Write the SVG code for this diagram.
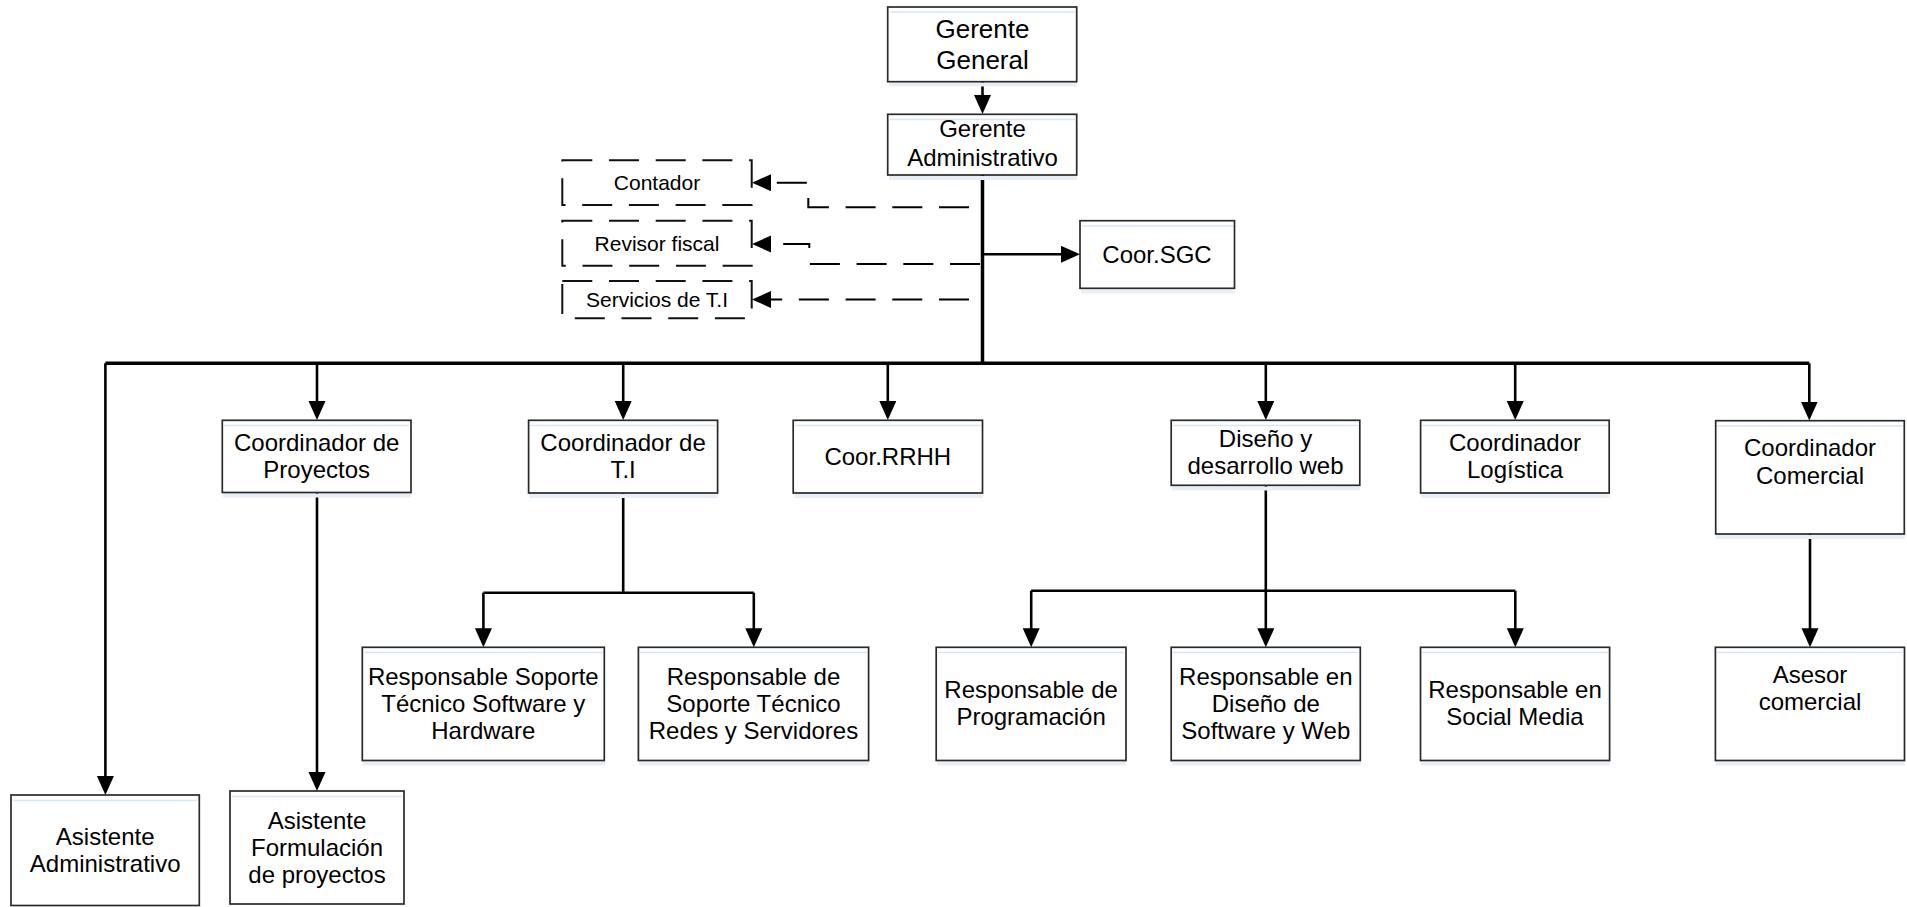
<svg xmlns="http://www.w3.org/2000/svg" width="1907" height="907" viewBox="0 0 1907 907">
<defs>
<style>
.box{fill:#fff;stroke:#2a2a2a;stroke-width:1.7}
.dbox{fill:#fff;stroke:#111;stroke-width:2;stroke-dasharray:30 16.7}
.hl{stroke:#d9e6f4;stroke-width:1.5}
.sh{fill:#e9eff7}
text{font-family:"Liberation Sans",Arial,sans-serif;font-size:24px;fill:#000;text-anchor:middle}
.big{font-size:26px}
.sm{font-size:21px}
.c{fill:none;stroke:#000;stroke-width:2.6}
.trunk{fill:none;stroke:#000;stroke-width:3.5}
.dash{fill:none;stroke:#000;stroke-width:2;stroke-dasharray:30 16.7}
</style>
<marker id="ah" markerUnits="userSpaceOnUse" markerWidth="20" markerHeight="18" refX="11" refY="8.5" orient="auto">
<path d="M0,0 L19,8.5 L0,17 z" fill="#000"/>
</marker>
</defs>
<rect width="1907" height="907" fill="#fff"/>

<g id="connectors">
<path class="c" d="M982.5,82 L982.5,106" marker-end="url(#ah)"/>
<path class="trunk" d="M982.5,175 L982.5,364"/>
<path class="trunk" d="M105.4,363.3 L1809.3,363.3"/>
<path class="c" d="M982.5,254.3 L1072,254.3" marker-end="url(#ah)"/>
<path class="c" d="M105.4,363.3 L105.4,787" marker-end="url(#ah)"/>
<path class="c" d="M317,363.3 L317,412" marker-end="url(#ah)"/>
<path class="c" d="M623.2,363.3 L623.2,412" marker-end="url(#ah)"/>
<path class="c" d="M887.8,363.3 L887.8,412" marker-end="url(#ah)"/>
<path class="c" d="M1265.8,363.3 L1265.8,412" marker-end="url(#ah)"/>
<path class="c" d="M1515.2,363.3 L1515.2,412" marker-end="url(#ah)"/>
<path class="c" d="M1809.3,363.3 L1809.3,412.5" marker-end="url(#ah)"/>
<path class="c" d="M317,492.5 L317,783" marker-end="url(#ah)"/>
<path class="c" d="M623.2,493 L623.2,592.7"/>
<path class="c" d="M483.4,592.7 L753.8,592.7"/>
<path class="c" d="M483.4,592.7 L483.4,639.3" marker-end="url(#ah)"/>
<path class="c" d="M753.8,592.7 L753.8,639.3" marker-end="url(#ah)"/>
<path class="c" d="M1265.8,485.3 L1265.8,590.7"/>
<path class="c" d="M1031.2,590.7 L1515.3,590.7"/>
<path class="c" d="M1031.2,590.7 L1031.2,639.3" marker-end="url(#ah)"/>
<path class="c" d="M1265.8,590.7 L1265.8,639.3" marker-end="url(#ah)"/>
<path class="c" d="M1515.3,590.7 L1515.3,639.3" marker-end="url(#ah)"/>
<path class="c" d="M1810,534 L1810,639.3" marker-end="url(#ah)"/>
<path class="dash" d="M969,207.3 L808.3,207.3 L808.3,182.7 L760,182.7" marker-end="url(#ah)"/>
<path class="dash" d="M980,264 L809.3,264 L809.3,244 L760,244" marker-end="url(#ah)"/>
<path class="dash" d="M969,299.5 L760,299.5" marker-end="url(#ah)"/>
</g>

<g id="gerente-general">
<rect class="sh" x="889" y="82.5" width="188" height="4"/>
<rect class="box" x="887.7" y="7" width="189" height="74.7"/>
<line class="hl" x1="890" y1="12" x2="1075" y2="12"/>
<text class="big" x="982.5" y="38">Gerente</text>
<text class="big" x="982.5" y="69">General</text>
</g>

<g id="gerente-administrativo">
<rect class="sh" x="889" y="176" width="188" height="4"/>
<rect class="box" x="887.7" y="114.3" width="189" height="60.7"/>
<line class="hl" x1="890" y1="119.5" x2="1075" y2="119.5"/>
<text x="982.5" y="136.7">Gerente</text>
<text x="982.5" y="166">Administrativo</text>
</g>

<g id="contador">
<rect class="dbox" x="562.3" y="160.3" width="189.4" height="44.7"/>
<text class="sm" x="657" y="190">Contador</text>
</g>

<g id="revisor-fiscal">
<rect class="dbox" x="562.3" y="220.7" width="189.4" height="45"/>
<text class="sm" x="657" y="250.5">Revisor fiscal</text>
</g>

<g id="servicios-ti">
<rect class="dbox" x="562.3" y="281" width="189.4" height="37.3"/>
<text class="sm" x="657" y="306.5">Servicios de T.I</text>
</g>

<g id="coor-sgc">
<rect class="sh" x="1081" y="289.5" width="154" height="4"/>
<rect class="box" x="1080" y="220.7" width="154.5" height="67.6"/>
<line class="hl" x1="1082" y1="226" x2="1233" y2="226"/>
<text x="1157" y="263">Coor.SGC</text>
</g>

<g id="coordinador-proyectos">
<rect class="sh" x="223" y="493.5" width="188" height="4"/>
<rect class="box" x="222.3" y="420.3" width="188.7" height="72.2"/>
<line class="hl" x1="224" y1="425.5" x2="409" y2="425.5"/>
<text x="316.7" y="450.5">Coordinador de</text>
<text x="316.7" y="477.5">Proyectos</text>
</g>

<g id="coordinador-ti">
<rect class="sh" x="529" y="494" width="189" height="4"/>
<rect class="box" x="528.6" y="420.3" width="189" height="72.7"/>
<line class="hl" x1="530" y1="425.5" x2="716" y2="425.5"/>
<text x="623.1" y="450.5">Coordinador de</text>
<text x="623.1" y="477.5">T.I</text>
</g>

<g id="coor-rrhh">
<rect class="sh" x="794" y="494" width="189" height="4"/>
<rect class="box" x="793.2" y="420.3" width="189.3" height="72.7"/>
<line class="hl" x1="795" y1="425.5" x2="981" y2="425.5"/>
<text x="887.8" y="464.5">Coor.RRHH</text>
</g>

<g id="diseno-desarrollo-web">
<rect class="sh" x="1172" y="486.5" width="188" height="4"/>
<rect class="box" x="1171.2" y="420.3" width="188.6" height="65"/>
<line class="hl" x1="1173" y1="425.5" x2="1358" y2="425.5"/>
<text x="1265.5" y="446.9">Diseño y</text>
<text x="1265.5" y="473.9">desarrollo web</text>
</g>

<g id="coordinador-logistica">
<rect class="sh" x="1421" y="494" width="189" height="4"/>
<rect class="box" x="1420.6" y="420.3" width="188.6" height="72.7"/>
<line class="hl" x1="1422" y1="425.5" x2="1608" y2="425.5"/>
<text x="1515" y="450.8">Coordinador</text>
<text x="1515" y="477.8">Logística</text>
</g>

<g id="coordinador-comercial">
<rect class="sh" x="1716" y="535" width="189" height="4"/>
<rect class="box" x="1715.7" y="420.7" width="188.6" height="113.3"/>
<line class="hl" x1="1717" y1="426" x2="1903" y2="426"/>
<text x="1810" y="455.5">Coordinador</text>
<text x="1810" y="483.5">Comercial</text>
</g>

<g id="resp-soporte-software">
<rect class="sh" x="363" y="761.5" width="242" height="4"/>
<rect class="box" x="362.3" y="647.3" width="242" height="113.2"/>
<line class="hl" x1="364" y1="652.5" x2="603" y2="652.5"/>
<text x="483.3" y="685.2">Responsable Soporte</text>
<text x="483.3" y="712.2">Técnico Software y</text>
<text x="483.3" y="739.2">Hardware</text>
</g>

<g id="resp-soporte-redes">
<rect class="sh" x="639" y="761.5" width="230" height="4"/>
<rect class="box" x="638.4" y="647.3" width="230.2" height="113.2"/>
<line class="hl" x1="640" y1="652.5" x2="867" y2="652.5"/>
<text x="753.5" y="685.2">Responsable de</text>
<text x="753.5" y="712.2">Soporte Técnico</text>
<text x="753.5" y="739.2">Redes y Servidores</text>
</g>

<g id="resp-programacion">
<rect class="sh" x="937" y="761.5" width="189" height="4"/>
<rect class="box" x="936.2" y="647.3" width="189.8" height="113.2"/>
<line class="hl" x1="938" y1="652.5" x2="1124" y2="652.5"/>
<text x="1031.1" y="698.3">Responsable de</text>
<text x="1031.1" y="725.3">Programación</text>
</g>

<g id="resp-diseno-software-web">
<rect class="sh" x="1172" y="761.5" width="189" height="4"/>
<rect class="box" x="1171.2" y="647.3" width="189.1" height="113.2"/>
<line class="hl" x1="1173" y1="652.5" x2="1359" y2="652.5"/>
<text x="1265.8" y="685.2">Responsable en</text>
<text x="1265.8" y="712.2">Diseño de</text>
<text x="1265.8" y="739.2">Software y Web</text>
</g>

<g id="resp-social-media">
<rect class="sh" x="1421" y="761.5" width="189" height="4"/>
<rect class="box" x="1420.5" y="647.3" width="189.1" height="113.2"/>
<line class="hl" x1="1422" y1="652.5" x2="1608" y2="652.5"/>
<text x="1515" y="698.3">Responsable en</text>
<text x="1515" y="725.3">Social Media</text>
</g>

<g id="asesor-comercial">
<rect class="sh" x="1716" y="761.5" width="189" height="4"/>
<rect class="box" x="1715.4" y="647.3" width="189.1" height="113.2"/>
<line class="hl" x1="1717" y1="652.5" x2="1903" y2="652.5"/>
<text x="1810" y="682.5">Asesor</text>
<text x="1810" y="710">comercial</text>
</g>

<g id="asistente-administrativo">
<rect class="box" x="11" y="795" width="188.3" height="110.5"/>
<line class="hl" x1="13" y1="800.5" x2="197" y2="800.5"/>
<text x="105.2" y="845">Asistente</text>
<text x="105.2" y="872">Administrativo</text>
</g>

<g id="asistente-formulacion">
<rect class="box" x="230" y="791" width="174" height="113"/>
<line class="hl" x1="232" y1="796.5" x2="402" y2="796.5"/>
<text x="317" y="828.8">Asistente</text>
<text x="317" y="855.8">Formulación</text>
<text x="317" y="882.8">de proyectos</text>
</g>
</svg>
